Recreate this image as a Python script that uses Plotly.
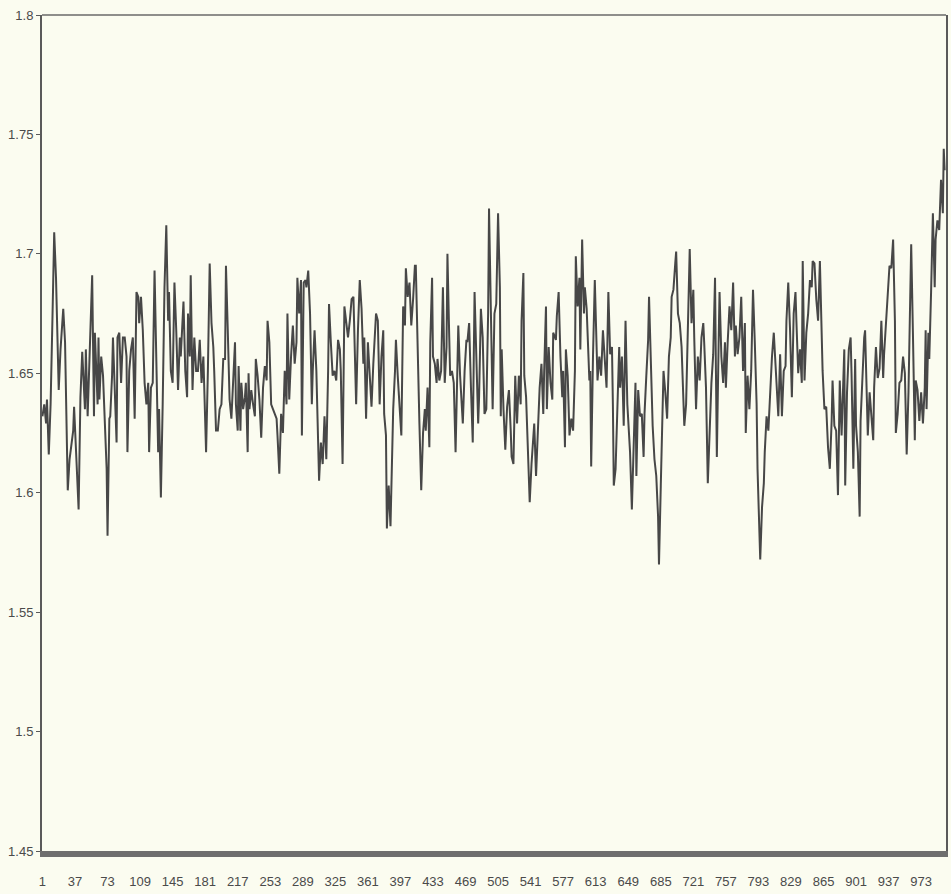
import plotly.graph_objects as go

idx_a = [1, 3, 5, 6, 8, 10, 12, 14, 16, 19,
         21, 24, 26, 29, 31, 35, 36, 38, 41, 43,
         45, 48, 49, 51, 53, 56, 58, 59, 62, 63,
         64, 66, 68, 70, 72, 73, 75, 76, 78, 79,
         81, 83, 84, 86, 88, 90, 92, 94, 95, 97,
         99, 101, 103, 105, 107, 108, 110, 112, 114, 116,
         118, 119, 121, 123, 125, 127, 129, 130, 132, 134,
         136, 138, 140, 141, 143, 145, 147, 149, 151, 153,
         154, 157, 159, 161, 162, 164, 165, 167, 169, 171]
val_a = [1.632, 1.637, 1.629, 1.639, 1.616, 1.637, 1.672, 1.709, 1.690, 1.643,
         1.660, 1.677, 1.663, 1.601, 1.614, 1.626, 1.636, 1.621, 1.593, 1.640,
         1.659, 1.635, 1.660, 1.632, 1.657, 1.691, 1.632, 1.667, 1.637, 1.665,
         1.639, 1.657, 1.649, 1.631, 1.610, 1.582, 1.631, 1.632, 1.649, 1.665,
         1.643, 1.621, 1.665, 1.667, 1.646, 1.665, 1.665, 1.657, 1.617, 1.651,
         1.660, 1.665, 1.631, 1.684, 1.682, 1.671, 1.682, 1.668, 1.646, 1.637,
         1.646, 1.617, 1.644, 1.646, 1.693, 1.646, 1.617, 1.635, 1.598, 1.637,
         1.686, 1.712, 1.672, 1.684, 1.651, 1.646, 1.688, 1.668, 1.643, 1.665,
         1.657, 1.680, 1.651, 1.640, 1.675, 1.657, 1.691, 1.643, 1.665, 1.651]

idx_b = [173, 175, 177, 179, 180, 182, 184, 186, 188, 190,
         191, 193, 195, 197, 199, 201, 203, 204, 206, 208,
         210, 212, 214, 215, 217, 218, 220, 221, 223, 225,
         226, 228, 229, 230, 232, 234, 236, 237, 239, 241,
         243, 245, 247, 249, 250, 252, 254, 256, 258, 260,
         261, 263, 265, 267, 269, 271, 272, 274, 276, 278,
         280, 282, 283, 285, 287, 288, 290, 292, 293, 295,
         297, 299, 300, 302, 304, 306, 307, 309, 311, 313,
         315, 317, 318, 320, 322, 324, 326, 328, 330, 331,
         333, 335, 337]
val_b = [1.651, 1.664, 1.646, 1.657, 1.646, 1.617, 1.651, 1.696, 1.671, 1.661,
         1.651, 1.626, 1.626, 1.635, 1.637, 1.656, 1.656, 1.695, 1.668, 1.639,
         1.631, 1.651, 1.663, 1.637, 1.626, 1.653, 1.626, 1.646, 1.635, 1.640,
         1.646, 1.617, 1.650, 1.635, 1.643, 1.637, 1.632, 1.656, 1.649, 1.639,
         1.623, 1.644, 1.653, 1.647, 1.672, 1.663, 1.637, 1.635, 1.633, 1.631,
         1.624, 1.608, 1.633, 1.625, 1.651, 1.637, 1.675, 1.639, 1.657, 1.670,
         1.654, 1.663, 1.690, 1.675, 1.689, 1.624, 1.688, 1.689, 1.686, 1.693,
         1.675, 1.637, 1.651, 1.668, 1.651, 1.624, 1.605, 1.621, 1.612, 1.632,
         1.614, 1.651, 1.679, 1.663, 1.649, 1.651, 1.647, 1.664, 1.660, 1.651,
         1.612, 1.678, 1.671]

idx_c = [339, 341, 343, 345, 346, 348, 350, 352, 354, 356,
         357, 359, 361, 363, 365, 367, 368, 370, 372, 374,
         376, 378, 379, 381, 382, 384, 386, 387, 389, 391,
         392, 394, 396, 398, 400, 402, 403, 405, 407, 409,
         411, 413, 414, 416, 418, 420, 422, 424, 425, 427,
         429, 430, 432, 433, 435, 437, 438, 440, 442, 444,
         446, 448, 449, 451, 452, 454, 456, 458, 459, 461,
         463, 464, 466, 468, 470, 471, 473, 475, 477, 479,
         481, 483, 484, 486, 488, 490, 492, 494, 495, 497,
         499, 501, 503]
val_c = [1.665, 1.672, 1.681, 1.682, 1.665, 1.637, 1.668, 1.689, 1.677, 1.654,
         1.665, 1.631, 1.663, 1.649, 1.636, 1.654, 1.661, 1.675, 1.672, 1.637,
         1.657, 1.668, 1.633, 1.624, 1.585, 1.603, 1.586, 1.603, 1.635, 1.651,
         1.664, 1.649, 1.637, 1.624, 1.678, 1.670, 1.694, 1.682, 1.688, 1.670,
         1.681, 1.695, 1.695, 1.657, 1.629, 1.601, 1.625, 1.635, 1.626, 1.644,
         1.619, 1.663, 1.690, 1.657, 1.654, 1.646, 1.656, 1.647, 1.651, 1.686,
         1.646, 1.661, 1.700, 1.665, 1.649, 1.651, 1.646, 1.617, 1.637, 1.670,
         1.649, 1.640, 1.629, 1.651, 1.664, 1.663, 1.671, 1.644, 1.621, 1.684,
         1.657, 1.629, 1.640, 1.677, 1.665, 1.633, 1.635, 1.675, 1.719, 1.668,
         1.635, 1.675, 1.679]

idx_d = [505, 507, 508, 509, 511, 513, 515, 517, 519, 520,
         522, 524, 526, 528, 530, 531, 533, 534, 536, 538,
         540, 542, 544, 545, 547, 549, 551, 553, 555, 556,
         558, 559, 561, 563, 565, 566, 569, 570, 572, 574,
         576, 577, 579, 580, 582, 584, 586, 588, 590, 591,
         593, 595, 596, 598, 600, 601, 603, 605, 606, 607,
         608, 610, 612, 614, 615, 617, 619, 621, 623, 625,
         626, 627, 629, 631, 632, 633, 635, 637, 639, 640,
         642, 644, 646, 648, 650, 651, 653, 655, 657, 658,
         660, 662, 664, 666, 667, 669, 671, 672]
val_d = [1.717, 1.686, 1.632, 1.660, 1.635, 1.618, 1.636, 1.643, 1.626, 1.615,
         1.612, 1.649, 1.629, 1.649, 1.637, 1.672, 1.692, 1.649, 1.640, 1.617,
         1.596, 1.612, 1.621, 1.629, 1.607, 1.624, 1.644, 1.654, 1.633, 1.651,
         1.678, 1.635, 1.661, 1.646, 1.639, 1.667, 1.664, 1.674, 1.684, 1.657,
         1.640, 1.651, 1.619, 1.660, 1.649, 1.624, 1.631, 1.626, 1.651, 1.699,
         1.678, 1.690, 1.660, 1.706, 1.675, 1.686, 1.677, 1.657, 1.647, 1.651,
         1.611, 1.657, 1.689, 1.661, 1.647, 1.657, 1.649, 1.668, 1.656, 1.644,
         1.664, 1.684, 1.658, 1.661, 1.637, 1.603, 1.610, 1.637, 1.661, 1.644,
         1.657, 1.628, 1.672, 1.637, 1.624, 1.617, 1.593, 1.617, 1.646, 1.607,
         1.643, 1.632, 1.633, 1.615, 1.633, 1.649, 1.664, 1.682]

idx_e = [675, 676, 678, 680, 682, 683, 685, 686, 688, 690,
         692, 694, 696, 697, 699, 701, 702, 704, 706, 708,
         710, 711, 713, 715, 717, 719, 721, 722, 724, 726,
         728, 730, 732, 733, 735, 737, 739, 741, 743, 745,
         746, 747, 749, 750, 752, 754, 756, 757, 759, 761,
         763, 765, 767, 768, 770, 772, 774, 776, 778, 779,
         781, 783, 785, 787, 789, 791, 792, 794, 795, 797,
         799, 800, 802, 804, 806, 808, 810, 812, 813, 815,
         817, 819, 821, 823, 824, 826, 828, 830, 832, 834,
         835, 837, 839, 841, 842]
val_e = [1.639, 1.628, 1.614, 1.607, 1.590, 1.570, 1.603, 1.624, 1.651, 1.642,
         1.631, 1.657, 1.665, 1.682, 1.685, 1.696, 1.701, 1.675, 1.671, 1.661,
         1.637, 1.628, 1.637, 1.668, 1.702, 1.671, 1.685, 1.665, 1.635, 1.657,
         1.647, 1.665, 1.671, 1.663, 1.644, 1.604, 1.629, 1.646, 1.658, 1.690,
         1.651, 1.615, 1.663, 1.684, 1.657, 1.646, 1.663, 1.644, 1.663, 1.678,
         1.668, 1.688, 1.657, 1.670, 1.658, 1.665, 1.682, 1.651, 1.671, 1.625,
         1.649, 1.635, 1.651, 1.685, 1.663, 1.637, 1.610, 1.587, 1.572, 1.594,
         1.604, 1.617, 1.632, 1.626, 1.643, 1.657, 1.667, 1.653, 1.649, 1.632,
         1.658, 1.632, 1.651, 1.653, 1.672, 1.688, 1.668, 1.640, 1.675, 1.684,
         1.672, 1.650, 1.660, 1.646, 1.697]

idx_f = [844, 846, 848, 850, 852, 853, 855, 857, 859, 861,
         863, 864, 866, 868, 870, 872, 874, 875, 877, 879,
         881, 883, 885, 886, 888, 889, 891, 893, 895, 896,
         898, 900, 901, 903, 905, 906, 908, 910, 911, 913,
         914, 916, 918, 920, 921, 923, 925, 927, 929, 931,
         932, 934, 936, 938, 940, 942, 944, 945, 947, 949,
         951, 953, 955, 956, 957, 959, 961, 962, 964, 966,
         967, 969, 971, 973, 975, 977, 978, 979, 981, 982,
         984, 986, 988, 989, 991, 993, 995, 997, 998, 999]
val_f = [1.647, 1.667, 1.675, 1.689, 1.686, 1.697, 1.696, 1.681, 1.672, 1.697,
         1.656, 1.651, 1.635, 1.636, 1.619, 1.610, 1.630, 1.647, 1.628, 1.626,
         1.599, 1.647, 1.624, 1.637, 1.660, 1.603, 1.642, 1.660, 1.665, 1.650,
         1.610, 1.656, 1.628, 1.617, 1.590, 1.630, 1.650, 1.665, 1.668, 1.639,
         1.624, 1.642, 1.633, 1.622, 1.644, 1.661, 1.648, 1.652, 1.672, 1.648,
         1.658, 1.672, 1.684, 1.695, 1.694, 1.706, 1.672, 1.625, 1.633, 1.646,
         1.647, 1.657, 1.650, 1.630, 1.616, 1.642, 1.677, 1.704, 1.665, 1.622,
         1.647, 1.643, 1.630, 1.642, 1.629, 1.644, 1.668, 1.635, 1.667, 1.656,
         1.684, 1.717, 1.686, 1.706, 1.714, 1.710, 1.731, 1.717, 1.744, 1.735]

x_tick_values = [1, 37, 73, 109, 145, 181, 217, 253, 289, 325, 361, 397, 433, 469,
                 505, 541, 577, 613, 649, 685, 721, 757, 793, 829, 865, 901, 937, 973]
y_tick_values = [1.45, 1.5, 1.55, 1.6, 1.65, 1.7, 1.75, 1.8]
y_tick_labels = ["1.45", "1.5", "1.55", "1.6", "1.65", "1.7", "1.75", "1.8"]
n_obs = 1000

segments = [(idx_a, val_a), (idx_b, val_b), (idx_c, val_c),
            (idx_d, val_d), (idx_e, val_e), (idx_f, val_f)]
xs, ys = [], []
for ix, vv in segments:
    assert len(ix) == len(vv), (len(ix), len(vv))
    xs += ix
    ys += vv

BG = "#fbfcf0"
FONT = dict(family="Liberation Sans Narrow, Arial Narrow, Liberation Sans, Arial", size=13, color="#4a4a4a")

fig = go.Figure()
fig.add_trace(go.Scatter(x=xs, y=ys, mode="lines",
                         line=dict(color="#474747", width=2),
                         showlegend=False, hoverinfo="skip"))

fig.update_layout(
    width=951, height=894,
    margin=dict(l=42, r=3, t=15, b=43),
    paper_bgcolor=BG, plot_bgcolor=BG,
    font=FONT,
    xaxis=dict(range=[0.5, n_obs + 0.5], tickmode="array", tickvals=x_tick_values,
               ticktext=[str(v) for v in x_tick_values],
               showline=True, linecolor="#6e6e6e", linewidth=6,
               ticks="outside", ticklen=13, tickcolor="rgba(0,0,0,0)",
               showgrid=False, zeroline=False, tickfont=FONT),
    yaxis=dict(range=[1.45, 1.8], tickmode="array", tickvals=y_tick_values,
               ticktext=y_tick_labels,
               showline=True, linecolor="#5a5a5a", linewidth=2, mirror=True,
               ticks="outside", ticklen=4, tickcolor="#5a5a5a", tickwidth=1,
               showgrid=False, zeroline=False, tickfont=FONT),
    shapes=[dict(type="line", xref="paper", yref="paper", x0=0, x1=1, y0=1, y1=1,
                 line=dict(color="#6a6a6a", width=1.5))],
)

fig.write_html("out.html")
